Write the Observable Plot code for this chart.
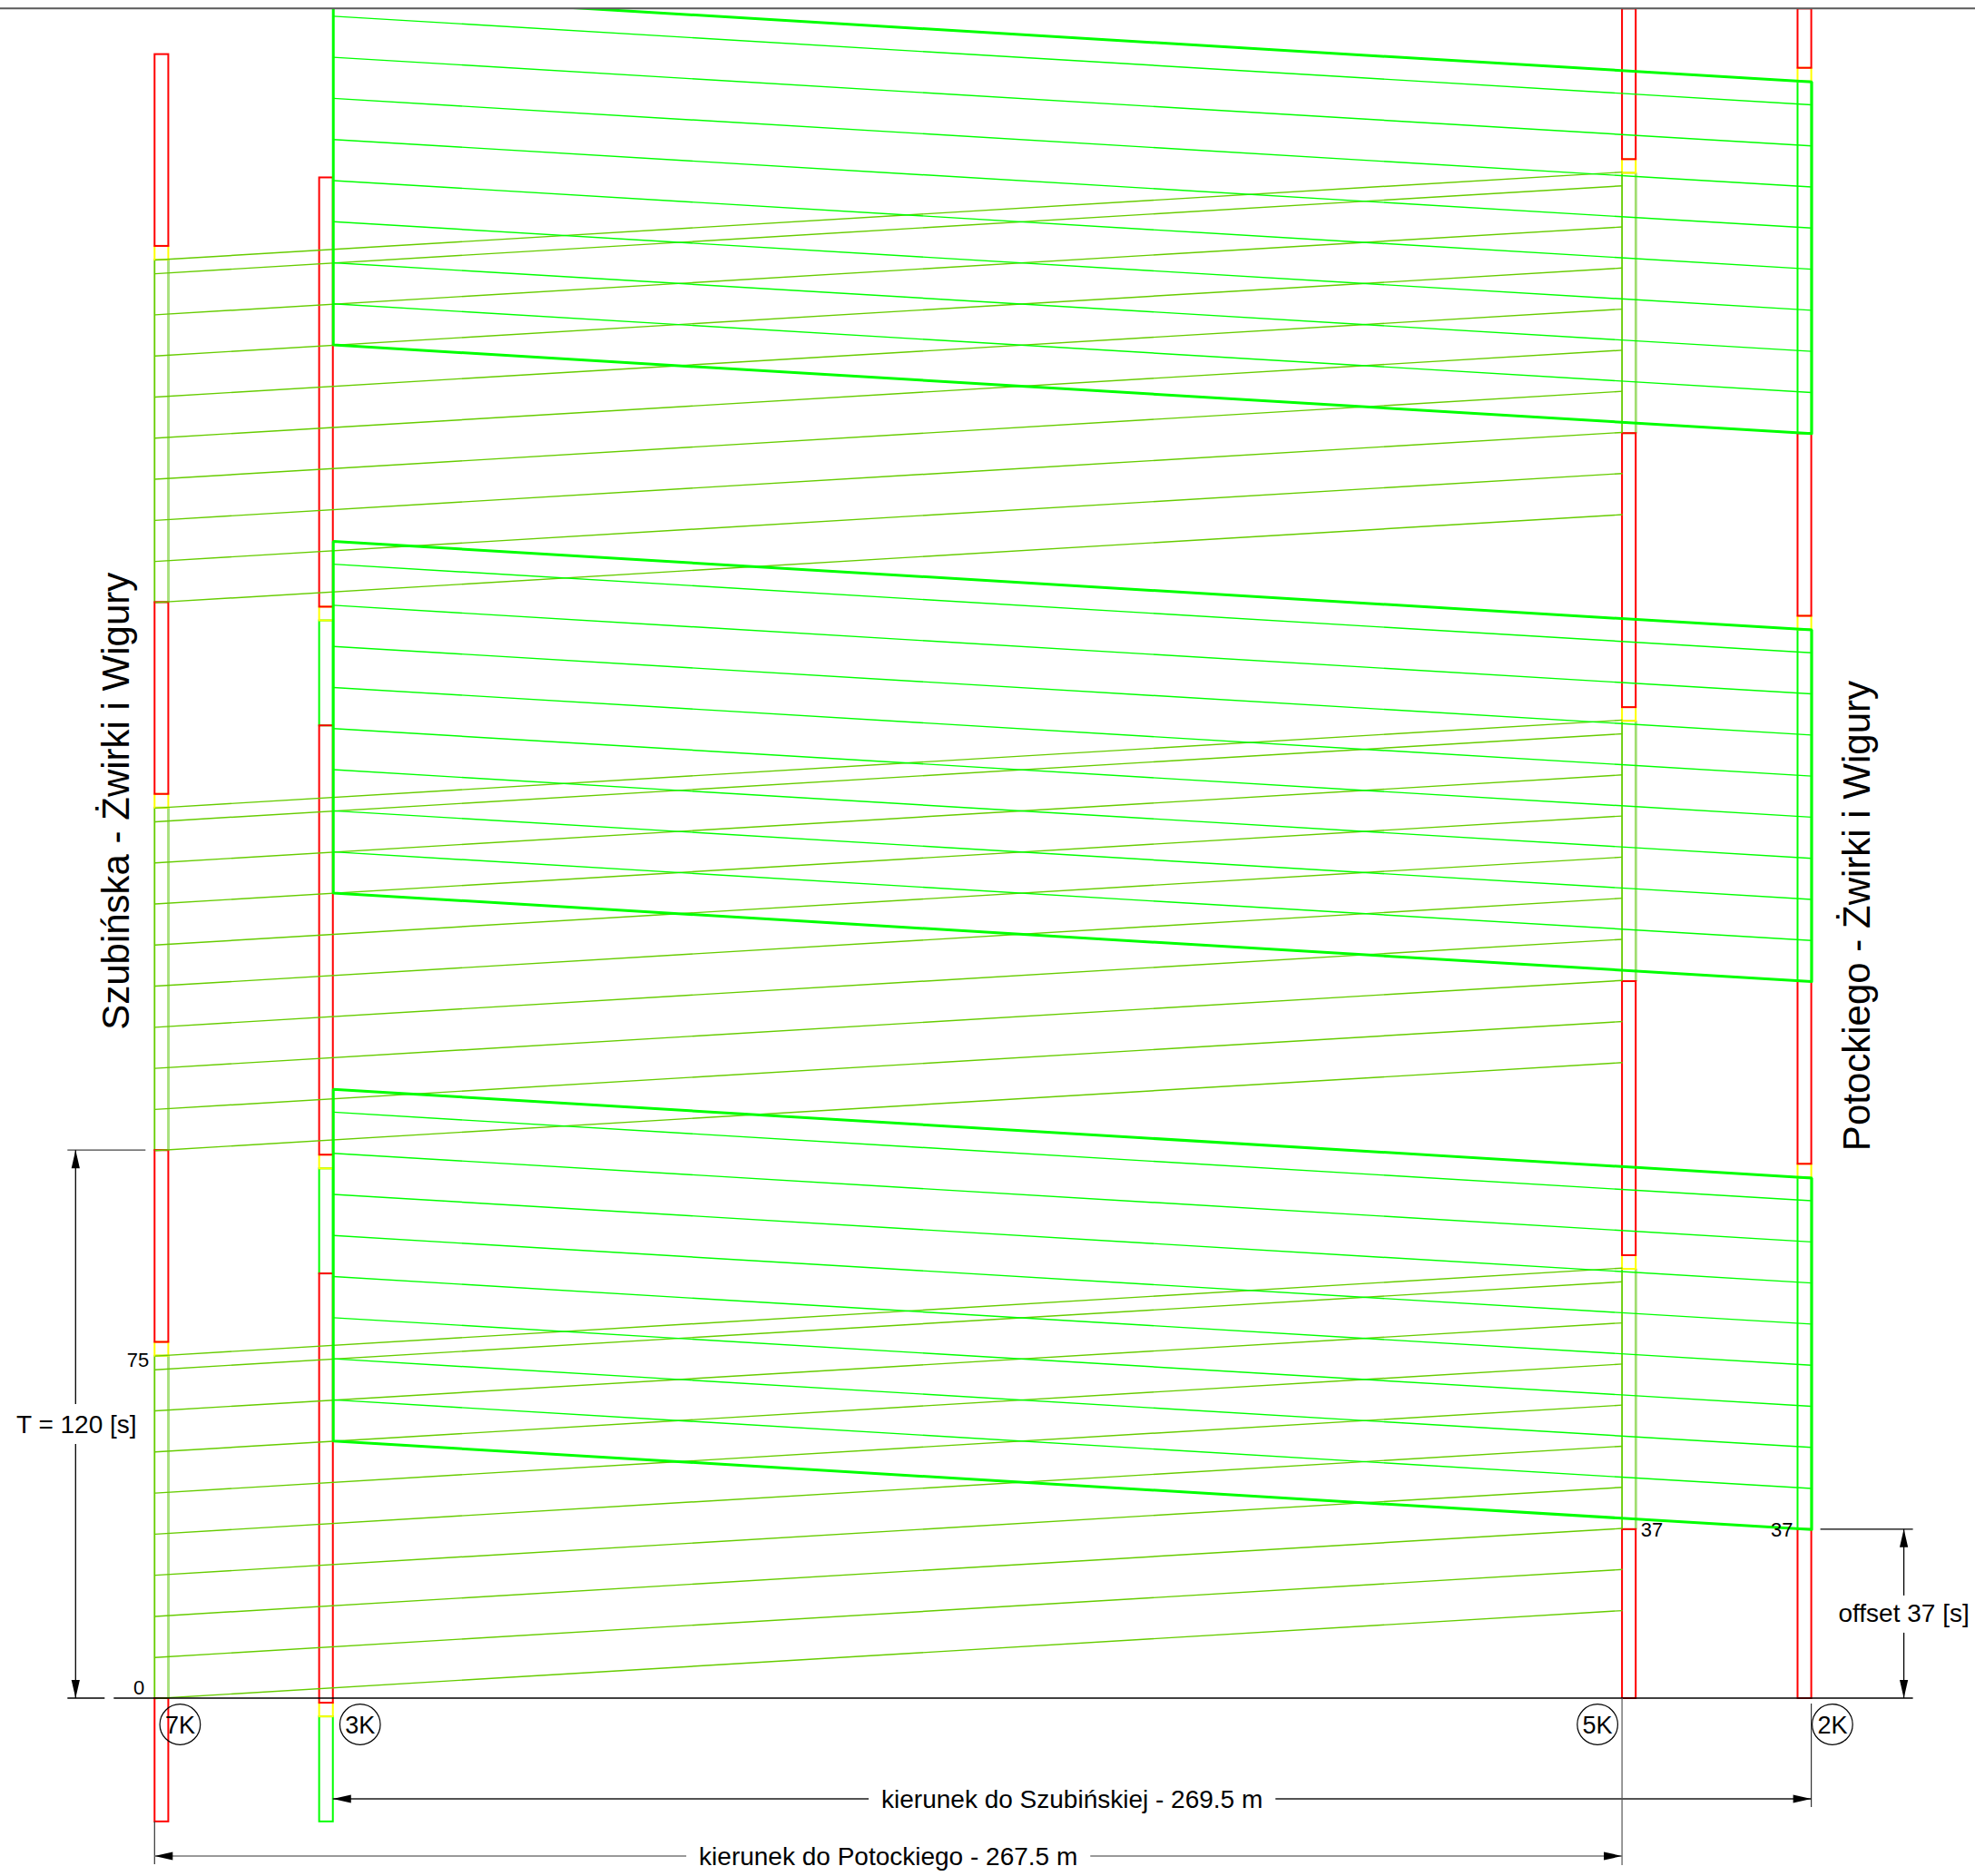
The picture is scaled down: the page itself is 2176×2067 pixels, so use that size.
<!DOCTYPE html>
<html>
<head>
<meta charset="utf-8">
<script src="https://cdn.jsdelivr.net/npm/d3@7"></script>
<script src="https://cdn.jsdelivr.net/npm/@observablehq/plot@0.6"></script>
<style>
  html, body { margin: 0; padding: 0; background: #ffffff; }
  svg { display: block; }
</style>
</head>
<body>
<script>
// ---------------- DATA ----------------
const signalNames = ["7K", "3K", "5K", "2K"];
const signalPos   = [0, 30, 267.5, 299.5];          // left edge of each signal bar [m]
const barWidth    = 2.5;                            // bar width [m]
const signalDir   = ["P", "S", "P", "S"];           // P = kierunek do Potockiego, S = do Szubińskiej

// signal phases: [state, from s, to s]
const phases7K = [["red",-27,0],["green",0,75],["yellow",75,78],["red",78,120],
                  ["green",120,195],["yellow",195,198],["red",198,240],
                  ["green",240,315],["yellow",315,318],["red",318,360]];
const phases3K = [["green",-27,-4],["yellow",-4,-1],["red",-1,93],
                  ["green",93,116],["yellow",116,119],["red",119,213],
                  ["green",213,236],["yellow",236,239],["red",239,333]];
const phases5K = [["red",0,37],["green",37,94],["yellow",94,97],["red",97,157],
                  ["green",157,214],["yellow",214,217],["red",217,277],
                  ["green",277,334],["yellow",334,337],["red",337,370]];
const phases2K = [["red",0,37],["green",37,114],["yellow",114,117],["red",117,157],
                  ["green",157,234],["yellow",234,237],["red",237,277],
                  ["green",277,354],["yellow",354,357],["red",357,370]];

// departure times of the drawn vehicle trajectories [s]
const potockiegoStarts = [0,9,18,27,36,45,54,63,72,75,
                          120,129,138,147,156,165,174,183,192,195,
                          240,249,258,267,276,285,294,303,312,315];
const szubinskiejStarts = [37,46,55,64,73,82,91,100,109,114,
                           157,166,175,184,193,202,211,220,229,234,
                           277,286,295,304,313,322,331,340,349,354];

const cycleT = 120;          // T [s]
const offsetS = 37;          // offset [s]
const distPotockiego = 267.5;   // 7K -> 5K [m]
const distSzubinskiej = 269.5;  // 2K -> 3K [m]
const speedKmh = 50;
const timeTop = 370;

// ---------------- derived ----------------
const v = speedKmh / 3.6;
const travelP = distPotockiego / v;
const travelS = distSzubinskiej / v;
const allPhases = [phases7K, phases3K, phases5K, phases2K];

const bars = [];
allPhases.forEach((ph, i) => ph.forEach(([state, t1, t2]) =>
  bars.push({signal: signalNames[i], dir: signalDir[i], x1: signalPos[i], x2: signalPos[i] + barWidth, t1, t2, state})));

const xP0 = signalPos[0];                   // 7K left edge
const xP1 = signalPos[0] + distPotockiego;  // 5K left edge
const xS0 = signalPos[3] + barWidth;        // 2K right edge
const xS1 = xS0 - distSzubinskiej;          // 3K right edge

const trajP = potockiegoStarts.map(t => ({x1: xP0, y1: t, x2: xP1, y2: t + travelP}));
const trajS = szubinskiejStarts.map(t => ({x1: xS0, y1: t, x2: xS1, y2: t + travelS}));

const bandPts = [];
phases2K.filter(d => d[0] === "green").forEach(([s, g0, g1], k) => {
  [[xS0, g0], [xS1, g0 + travelS], [xS1, g1 + travelS], [xS0, g1], [xS0, g0]]
    .forEach(([x, y]) => bandPts.push({band: k, x, y}));
});

// ---------------- styling / layout ----------------
const W = 2176, H = 2067;
const FONT = "'Liberation Sans', Arial, Helvetica, sans-serif";
const xDomain = [0, 302], xRange = [170.3, 1995.6];
const yDomain = [0, timeTop], yRange = [1871, 9.3];
const RED = "#ff0000", YEL = "#ffff00", GREEN_P = "#66cc00", GREEN_S = "#00ff00";

const plot = Plot.plot({
  width: W, height: H,
  marginTop: yRange[1], marginRight: 0, marginBottom: 0, marginLeft: 0,
  x: {domain: xDomain, range: xRange, axis: null},
  y: {domain: yDomain, range: yRange, axis: null},
  style: {background: "#ffffff", fontFamily: FONT, overflow: "visible"},
  marks: [
    // signal bars
    Plot.rect(bars.filter(d => d.state === "green" && d.dir === "P"),
      {x1: "x1", x2: "x2", y1: "t1", y2: "t2", fill: "none", stroke: GREEN_P, strokeWidth: 1.8, clip: true}),
    Plot.ruleX(bars.filter(d => d.state === "green" && d.dir === "P"),
      {x: "x2", y1: "t1", y2: "t2", stroke: "#a8df80", strokeWidth: 2.2, clip: true}),
    Plot.rect(bars.filter(d => d.state === "green" && d.dir === "S"),
      {x1: "x1", x2: "x2", y1: "t1", y2: "t2", fill: "none", stroke: GREEN_S, strokeWidth: 2, clip: true}),
    Plot.rect(bars.filter(d => d.state === "yellow"),
      {x1: "x1", x2: "x2", y1: "t1", y2: "t2", fill: "none", stroke: YEL, strokeWidth: 2, clip: true}),
    Plot.rect(bars.filter(d => d.state === "red"),
      {x1: "x1", x2: "x2", y1: "t1", y2: "t2", fill: "none", stroke: RED, strokeWidth: 2, clip: true}),
    // trajectories
    Plot.link(trajP, {x1: "x1", y1: "y1", x2: "x2", y2: "y2", stroke: GREEN_P, strokeWidth: 1.4, clip: true}),
    Plot.link(trajS, {x1: "x1", y1: "y1", x2: "x2", y2: "y2", stroke: GREEN_S, strokeWidth: 1.4, clip: true}),
    // green-wave band (direction Szubińskiej)
    Plot.line(bandPts, {x: "x", y: "y", z: "band", stroke: GREEN_S, strokeWidth: 3, strokeLinejoin: "miter", clip: true})
  ]
});
document.body.appendChild(plot);

// ---------------- annotations (dimensions, labels) ----------------
const sx = d3.scaleLinear(xDomain, xRange);
const sy = d3.scaleLinear(yDomain, yRange);
const svg = d3.select(plot);
const g = svg.append("g").attr("font-family", FONT).attr("fill", "#000");

function line(x1, y1, x2, y2, stroke = "#000", w = 1.3) {
  g.append("line").attr("x1", x1).attr("y1", y1).attr("x2", x2).attr("y2", y2)
    .attr("stroke", stroke).attr("stroke-width", w);
}
function arrow(x, y, dx, dy) {
  const L = 20, w = 4.6, px = -dy, py = dx, bx = x - dx * L, by = y - dy * L;
  g.append("polygon").attr("points",
    `${x},${y} ${bx + px * w},${by + py * w} ${bx - px * w},${by - py * w}`).attr("fill", "#000");
}
function text(x, y, s, size, anchor = "middle", baseline = null) {
  const t = g.append("text").attr("x", x).attr("y", y).attr("font-size", size)
    .attr("text-anchor", anchor).text(s);
  if (baseline) t.attr("dominant-baseline", baseline);
  return t;
}

const y0 = sy(0);
// top border & base line
line(0, sy(timeTop), W, sy(timeTop), "#5a5a5a", 2);
line(sx(xP0) - 45, y0, sx(xS0) + 112, y0, "#000", 1.5);

// T = 120 dimension
const tx = sx(xP0) - 87;
line(tx - 9, y0, tx + 32, y0, "#000", 1.3);
line(tx - 9, sy(cycleT), sx(xP0) - 10, sy(cycleT), "#444", 1.3);
const tMid = sy(cycleT / 2);
line(tx, sy(cycleT), tx, tMid - 22, "#000", 1.3);
line(tx, tMid + 22, tx, y0, "#000", 1.3);
arrow(tx, sy(cycleT), 0, -1);
arrow(tx, y0, 0, 1);
text(tx + 1, tMid, `T = ${cycleT} [s]`, 28, "middle", "central");

// small time labels
text(sx(xP0) - 6, sy(75) + 12.5, "75", 22, "end");
text(sx(xP0) - 11, y0 - 4, "0", 22, "end");
text(sx(signalPos[2] + barWidth) + 5.5, sy(offsetS) + 8, String(offsetS), 22, "start");
text(sx(signalPos[3]) - 5, sy(offsetS) + 8, String(offsetS), 22, "end");

// offset dimension
const ox = sx(xS0) + 102;
line(sx(xS0) + 10, sy(offsetS), sx(xS0) + 112, sy(offsetS), "#000", 1.3);
const oMid = sy(offsetS / 2);
line(ox, sy(offsetS), ox, oMid - 20, "#000", 1.3);
line(ox, oMid + 21, ox, y0, "#000", 1.3);
arrow(ox, sy(offsetS), 0, -1);
arrow(ox, y0, 0, 1);
text(ox, oMid, `offset ${offsetS} [s]`, 28, "middle", "central");

// circled signal labels
const circleX = [sx(signalPos[0] + barWidth) + 13, sx(signalPos[1] + barWidth) + 30,
                 sx(signalPos[2]) - 27, sx(signalPos[3] + barWidth) + 23.3];
signalNames.forEach((name, i) => {
  g.append("circle").attr("cx", circleX[i]).attr("cy", y0 + 29).attr("r", 22.3)
    .attr("fill", "none").attr("stroke", "#000").attr("stroke-width", 1.2);
  text(circleX[i], y0 + 30, name, 27, "middle", "central");
});

// distance dimensions
function dimension(xa, xb, y, label, stroke) {
  const mid = (xa + xb) / 2;
  const t = text(mid, y, label, 28, "middle", "central");
  const half = t.node().getComputedTextLength() / 2 + 14;
  line(xa, y, mid - half, y, stroke, 1.4);
  line(mid + half, y, xb, y, stroke, 1.4);
  arrow(xa, y, -1, 0);
  arrow(xb, y, 1, 0);
}
const yS = y0 + 111, yP = y0 + 174;
line(sx(xS0), y0 + 6, sx(xS0), yS + 9, "#333", 1.2);
dimension(sx(xS1), sx(xS0), yS, `kierunek do Szubińskiej - ${distSzubinskiej} m`, "#1a1a1a");
line(sx(xP0), sy(-27), sx(xP0), yP + 9, "#333", 1.2);
line(sx(xP1), y0, sx(xP1), yP + 10, "#555", 1.2);
dimension(sx(xP0), sx(xP1), yP, `kierunek do Potockiego - ${distPotockiego} m`, "#777");

// street titles (rotated)
g.append("text").attr("transform", `translate(${sx(xP0) - 28.6},${sy(196.4)}) rotate(-90)`)
  .attr("text-anchor", "middle").attr("font-size", 42).text("Szubińska - Żwirki i Wigury");
g.append("text").attr("transform", `translate(${sx(xS0) + 64.4},${sy(171.3)}) rotate(-90)`)
  .attr("text-anchor", "middle").attr("font-size", 42).text("Potockiego - Żwirki i Wigury");
</script>
</body>
</html>
